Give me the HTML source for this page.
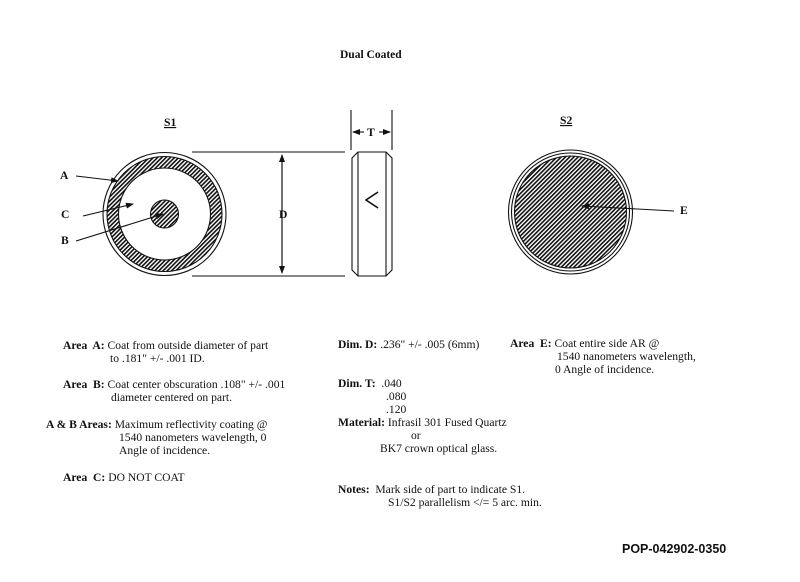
<!DOCTYPE html>
<html><head><style>
body{margin:0;background:#fff;}
svg{display:block}
text{font-family:"Liberation Serif",serif;fill:#111;font-size:11.6px;white-space:pre}
.b{font-weight:bold}
</style></head><body>
<svg width="800" height="582" viewBox="0 0 800 582">
<defs>
<pattern id="h" width="3" height="3" patternUnits="userSpaceOnUse" patternTransform="rotate(45)">
<rect width="3" height="3" fill="#fff"/><line x1="0.8" y1="0" x2="0.8" y2="3" stroke="#111" stroke-width="1.6"/>
</pattern>
<marker id="a" markerWidth="8" markerHeight="8" refX="7" refY="4" orient="auto" markerUnits="userSpaceOnUse"><path d="M0,1 L8,4 L0,7z" fill="#111"/></marker>
</defs>
<text x="340" y="58" class="b" style="font-size:11.5px">Dual Coated</text>
<text x="164" y="126" class="b" text-decoration="underline">S1</text>
<text x="560" y="124" class="b" text-decoration="underline">S2</text>
<g stroke="#111" fill="none" stroke-width="1.1">
<circle cx="164.5" cy="214" r="61.5"/>
<circle cx="164.5" cy="214" r="57.5" fill="url(#h)"/>
<circle cx="164.5" cy="214" r="46" fill="#fff"/>
<circle cx="164.5" cy="214" r="14" fill="url(#h)"/>
<line x1="192" y1="152" x2="345" y2="152"/>
<line x1="192" y1="276" x2="345" y2="276"/>
<line x1="282" y1="155" x2="282" y2="273" marker-end="url(#a)"/>
<line x1="282" y1="273" x2="282" y2="155" marker-end="url(#a)"/>
<path d="M358,152 L386,152 L392,158 L392,270 L386,276 L358,276 L352,270 L352,158 Z"/>
<line x1="358" y1="152" x2="358" y2="276"/>
<line x1="386" y1="152" x2="386" y2="276"/>
<line x1="351" y1="110" x2="351" y2="150"/>
<line x1="392" y1="110" x2="392" y2="150"/>
<line x1="364" y1="132" x2="353" y2="132" marker-end="url(#a)"/>
<line x1="379" y1="132" x2="390" y2="132" marker-end="url(#a)"/>
<path d="M378,192 L366,200 L378,208" stroke-width="1.6"/>
<line x1="76" y1="176" x2="118" y2="181" marker-end="url(#a)"/>
<line x1="83" y1="216" x2="133" y2="204" marker-end="url(#a)"/>
<line x1="76" y1="241" x2="163" y2="214" marker-end="url(#a)"/>
<circle cx="570.5" cy="212" r="62"/>
<circle cx="570.5" cy="212" r="59"/>
<circle cx="570.5" cy="212" r="56" fill="url(#h)"/>
<line x1="674" y1="211" x2="582" y2="206" marker-end="url(#a)"/>
</g>
<text x="60" y="179" class="b">A</text>
<text x="61" y="218" class="b">C</text>
<text x="61" y="244" class="b">B</text>
<text x="279" y="218" class="b">D</text>
<text x="367" y="136" class="b">T</text>
<text x="680" y="214" class="b">E</text>

<text x="63" y="349"><tspan class="b">Area  A:</tspan> Coat from outside diameter of part</text>
<text x="110" y="362">to .181" +/- .001 ID.</text>
<text x="63" y="388"><tspan class="b">Area  B:</tspan> Coat center obscuration .108" +/- .001</text>
<text x="111" y="401">diameter centered on part.</text>
<text x="46" y="428"><tspan class="b">A &amp; B Areas:</tspan> Maximum reflectivity coating @</text>
<text x="119" y="441">1540 nanometers wavelength, 0</text>
<text x="119" y="454">Angle of incidence.</text>
<text x="63" y="481"><tspan class="b">Area  C:</tspan> DO NOT COAT</text>

<text x="338" y="348"><tspan class="b">Dim. D:</tspan> .236" +/- .005 (6mm)</text>
<text x="338" y="387"><tspan class="b">Dim. T:</tspan>  .040</text>
<text x="386" y="400">.080</text>
<text x="386" y="413">.120</text>
<text x="338" y="426"><tspan class="b">Material:</tspan> Infrasil 301 Fused Quartz</text>
<text x="411" y="439">or</text>
<text x="380" y="452">BK7 crown optical glass.</text>
<text x="338" y="493"><tspan class="b">Notes:</tspan>  Mark side of part to indicate S1.</text>
<text x="388" y="506">S1/S2 parallelism &lt;/= 5 arc. min.</text>

<text x="510" y="347"><tspan class="b">Area  E:</tspan> Coat entire side AR @</text>
<text x="557" y="360">1540 nanometers wavelength,</text>
<text x="555" y="373">0 Angle of incidence.</text>

<text x="622" y="553" style="font-family:'Liberation Sans',sans-serif;font-weight:bold;font-size:12.5px">POP-042902-0350</text>
</svg>
</body></html>
